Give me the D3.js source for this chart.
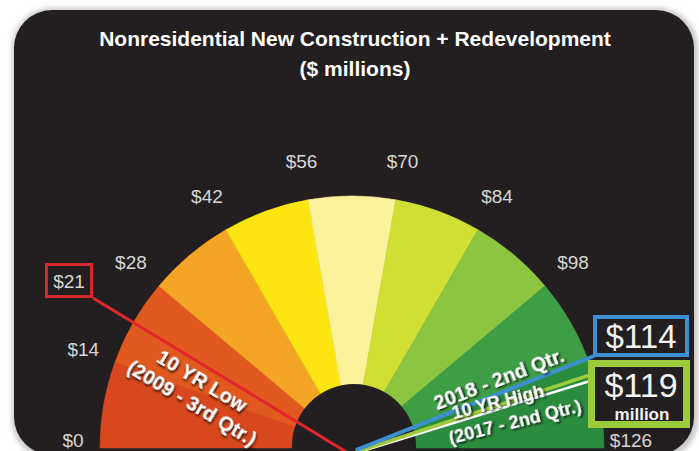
<!DOCTYPE html>
<html>
<head>
<meta charset="utf-8">
<script src="https://cdn.jsdelivr.net/npm/d3@7"></script>
<style>
  html, body { margin: 0; padding: 0; background: #fff; }
  svg { display: block; font-family: "Liberation Sans", Arial, sans-serif; }
</style>
</head>
<body>
<div id="chart"></div>
<script>
// gauge data ($ millions)
const gaugeMin = 0;
const gaugeMax = 126;
const bandEdges = [0, 14, 28, 42, 56, 70, 84, 98, 112, 126];
const bandOuter = ['#d8471d', '#e2591f', '#f5a526', '#fce511', '#fbf39c', '#cfdf33', '#8cc540', '#3e9e45', '#2b8b3f'];
const bandMid   = ['#b3261a', '#d54d1d', '#f2962a', '#f9d612', '#f8ec7c', '#bcd737', '#75bb43', '#359645', '#248440'];
const bandInner = ['#7a1013', '#c4441c', '#ec862e', '#f4c214', '#f3e258', '#a6cd3b', '#5fb046', '#2d8a44', '#1d7738'];
const tickValues = [0, 14, 28, 42, 56, 70, 84, 98, 126];

const lowValue = 21;
const lowLabel = ['10 YR Low', '(2009 - 3rd Qtr.)'];
const currentValue = 114;
const currentLabel = ['2018 - 2nd Qtr.'];
const highValue = 119;
const highLabel = ['10 YR High', '(2017 - 2nd Qtr.)'];

const titleLines = ['Nonresidential New Construction + Redevelopment', '($ millions)'];

const width = 699, height = 451;
const cx = 352, cy = 448;
const outerR = 252, hubR = 62;
const pivot = [352, 453];

const svg = d3.select('#chart').append('svg')
    .attr('width', width).attr('height', height);

const defs = svg.append('defs');

// soft glow round the black panel
defs.append('filter').attr('id', 'panelShadow')
    .attr('x', '-5%').attr('y', '-5%').attr('width', '110%').attr('height', '110%')
    .append('feGaussianBlur').attr('stdDeviation', 2.5);

// dark shadow under the white annotation texts
const ts = defs.append('filter').attr('id', 'textShadow')
    .attr('x', '-10%').attr('y', '-30%').attr('width', '130%').attr('height', '170%');
ts.append('feDropShadow').attr('dx', 1.5).attr('dy', 1.5).attr('stdDeviation', 1)
    .attr('flood-color', '#000').attr('flood-opacity', 0.9);

// background panel
svg.append('rect')
    .attr('x', 12).attr('y', 8).attr('width', 686).attr('height', 452).attr('rx', 40)
    .attr('fill', '#c8c8c8').attr('filter', 'url(#panelShadow)');
svg.append('rect')
    .attr('x', 14).attr('y', 10).attr('width', 680).attr('height', 445).attr('rx', 38)
    .attr('fill', '#231f20');

// title
svg.append('g').selectAll('text')
    .data(titleLines)
    .enter().append('text')
    .attr('x', 355)
    .attr('y', (d, i) => 46 + i * 30)
    .attr('text-anchor', 'middle')
    .style('font-size', '21px')
    .style('font-weight', 'bold')
    .style('fill', '#fff')
    .text(d => d);

// value -> angle (d3.arc convention: 0 at top, clockwise)
const angle = d3.scaleLinear().domain([gaugeMin, gaugeMax]).range([-Math.PI / 2, Math.PI / 2]);

const bands = d3.range(bandEdges.length - 1).map(i => ({
    from: bandEdges[i], to: bandEdges[i + 1],
    outer: bandOuter[i], mid: bandMid[i], inner: bandInner[i], i
}));

bands.forEach(b => {
    const grad = defs.append('radialGradient')
        .attr('id', 'band' + b.i)
        .attr('gradientUnits', 'userSpaceOnUse')
        .attr('cx', cx).attr('cy', cy).attr('r', outerR);
    grad.append('stop').attr('offset', 0.35).attr('stop-color', b.inner);
    grad.append('stop').attr('offset', 0.68).attr('stop-color', b.mid);
    grad.append('stop').attr('offset', 1).attr('stop-color', b.outer);
});

const arc = d3.arc()
    .innerRadius(0)
    .outerRadius(outerR)
    .startAngle(d => angle(d.from))
    .endAngle(d => angle(d.to));

const g = svg.append('g').attr('transform', `translate(${cx},${cy})`);

g.selectAll('path.band')
    .data(bands)
    .enter().append('path')
    .attr('class', 'band')
    .attr('d', arc)
    .attr('fill', d => `url(#band${d.i})`)
    .attr('stroke', d => `url(#band${d.i})`)
    .attr('stroke-width', 0.6);

// hub
g.append('circle').attr('cx', 2).attr('cy', -2).attr('r', hubR).attr('fill', '#231f20');

// tick labels
g.selectAll('text.tick')
    .data(tickValues)
    .enter().append('text')
    .attr('class', 'tick')
    .each(function (d) {
        const a = Math.PI / 2 - angle(d);          // standard polar angle
        const s = Math.abs(Math.sin(a));
        const r = 279 + 12 * Math.sqrt(s);
        d3.select(this)
            .attr('x', r * Math.cos(a))
            .attr('y', -r * Math.sin(a) - 8 * Math.pow(1 - s, 8));
    })
    .attr('text-anchor', 'middle')
    .attr('dominant-baseline', 'central')
    .style('font-size', '19px')
    .style('fill', '#d6d6d6')
    .text(d => '$' + d);

// ---- callouts ----
const ann = svg.append('g');

// 10 year low
ann.append('line')
    .attr('x1', 93).attr('y1', 298).attr('x2', pivot[0] - 4).attr('y2', pivot[1])
    .attr('stroke', '#e1262c').attr('stroke-width', 3);
ann.append('rect')
    .attr('x', 46.5).attr('y', 264.5).attr('width', 45).attr('height', 32)
    .attr('fill', 'none').attr('stroke', '#d7282f').attr('stroke-width', 3);
ann.append('text')
    .attr('x', 69).attr('y', 281)
    .attr('text-anchor', 'middle').attr('dominant-baseline', 'central')
    .style('font-size', '19px').style('fill', '#d6d6d6')
    .text('$' + lowValue);

function rotatedLines(lines, centers, rot, size) {
    lines.forEach((t, i) => {
        ann.append('text')
            .attr('transform', `translate(${centers[i][0]},${centers[i][1]}) rotate(${rot})`)
            .attr('text-anchor', 'middle').attr('dominant-baseline', 'central')
            .attr('filter', 'url(#textShadow)')
            .style('font-size', size + 'px').style('font-weight', 'bold').style('fill', '#fff')
            .text(t);
    });
}
rotatedLines(lowLabel, [[202, 381], [192, 403]], 31, 20);

// 10 year high (green + white lines)
ann.append('line')
    .attr('x1', pivot[0] + 4).attr('y1', pivot[1]).attr('x2', 590).attr('y2', 381)
    .attr('stroke', '#ffffff').attr('stroke-width', 2.5);
ann.append('line')
    .attr('x1', pivot[0] + 4).attr('y1', pivot[1] - 1).attr('x2', 590).attr('y2', 375)
    .attr('stroke', '#9ccb3b').attr('stroke-width', 3.5);

// current quarter (blue line)
ann.append('line')
    .attr('x1', pivot[0] + 4).attr('y1', pivot[1] - 3).attr('x2', 594).attr('y2', 356)
    .attr('stroke', '#3b8fd2').attr('stroke-width', 4);

rotatedLines(currentLabel, [[499, 379]], -21, 20);
rotatedLines(highLabel, [[498, 402], [515, 422]], -14, 18);

// $114 box
ann.append('rect')
    .attr('x', 595).attr('y', 317).attr('width', 92).attr('height', 38)
    .attr('fill', '#231f20').attr('stroke', '#3b8fd2').attr('stroke-width', 4);
ann.append('text')
    .attr('x', 641).attr('y', 336)
    .attr('text-anchor', 'middle').attr('dominant-baseline', 'central')
    .style('font-size', '33px').style('fill', '#f2f2f2')
    .text('$' + currentValue);

// $119 box
ann.append('rect')
    .attr('x', 591.5).attr('y', 363.5).attr('width', 95).attr('height', 61)
    .attr('fill', '#231f20').attr('stroke', '#9ccb3b').attr('stroke-width', 7);
ann.append('text')
    .attr('x', 641).attr('y', 385)
    .attr('text-anchor', 'middle').attr('dominant-baseline', 'central')
    .style('font-size', '34px').style('fill', '#f2f2f2')
    .text('$' + highValue);
ann.append('text')
    .attr('x', 642).attr('y', 420)
    .attr('text-anchor', 'middle')
    .style('font-size', '17px').style('font-weight', 'bold').style('fill', '#f2f2f2')
    .text('million');
</script>
</body>
</html>
